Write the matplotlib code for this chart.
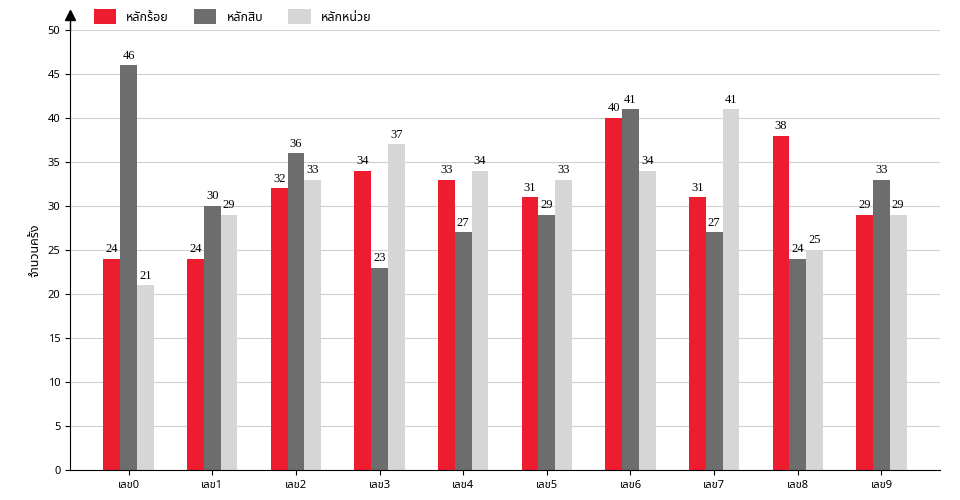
import matplotlib.pyplot as plt
import numpy as np

categories = ["เลข0", "เลข1", "เลข2", "เลข3", "เลข4", "เลข5", "เลข6", "เลข7", "เลข8", "เลข9"]
hundreds = [24, 24, 32, 34, 33, 31, 40, 31, 38, 29]
tens = [46, 30, 36, 23, 27, 29, 41, 27, 24, 33]
units = [21, 29, 33, 37, 34, 33, 34, 41, 25, 29]
series_names = ["หลักร้อย", "หลักสิบ", "หลักหน่วย"]
colors = ["#ED1C2E", "#6D6D6D", "#D6D6D6"]

plt.rcParams['font.family'] = ['Noto Sans Thai', 'Loma', 'Garuda', 'Tlwg Typo', 'Noto Sans', 'DejaVu Sans']

fig = plt.figure(figsize=(9.6, 5.0), dpi=100)
ax = fig.add_axes([70/960, 30/500, 870/960, 440/500])

x = np.arange(len(categories))
w = 0.2
for i, vals in enumerate([hundreds, tens, units]):
    pos = x + (i - 1) * w
    ax.bar(pos, vals, w, color=colors[i], label=series_names[i], zorder=2)
    for p, v in zip(pos, vals):
        ax.text(p, v + 0.4, str(v), ha="center", va="bottom", fontsize=9,
                family="Liberation Serif")

ax.set_xlim(-0.7, len(categories) - 0.3)
ax.set_ylim(0, 50)
ax.set_yticks(range(0, 51, 5))
ax.set_xticks(x)
ax.set_xticklabels(categories, fontsize=8)
ax.tick_params(axis="y", labelsize=8)
ax.grid(axis="y", color="#d0d0d0", linewidth=0.8, zorder=0)
for s in ["top", "right"]:
    ax.spines[s].set_visible(False)
ax.set_ylabel("จำนวนครั้ง", fontsize=9)
ax.plot([0, 0], [1.0, 1.03], transform=ax.transAxes, color="black", lw=1, clip_on=False)
ax.plot(0, 1.035, "^", transform=ax.transAxes, color="black", markersize=7, clip_on=False)

ax.legend(loc="lower left", bbox_to_anchor=(0.02, 1.0), ncol=3, frameon=False,
          fontsize=9, handlelength=1.8, handleheight=1.4, borderaxespad=0.1)

fig.savefig("out.png", dpi=100)
